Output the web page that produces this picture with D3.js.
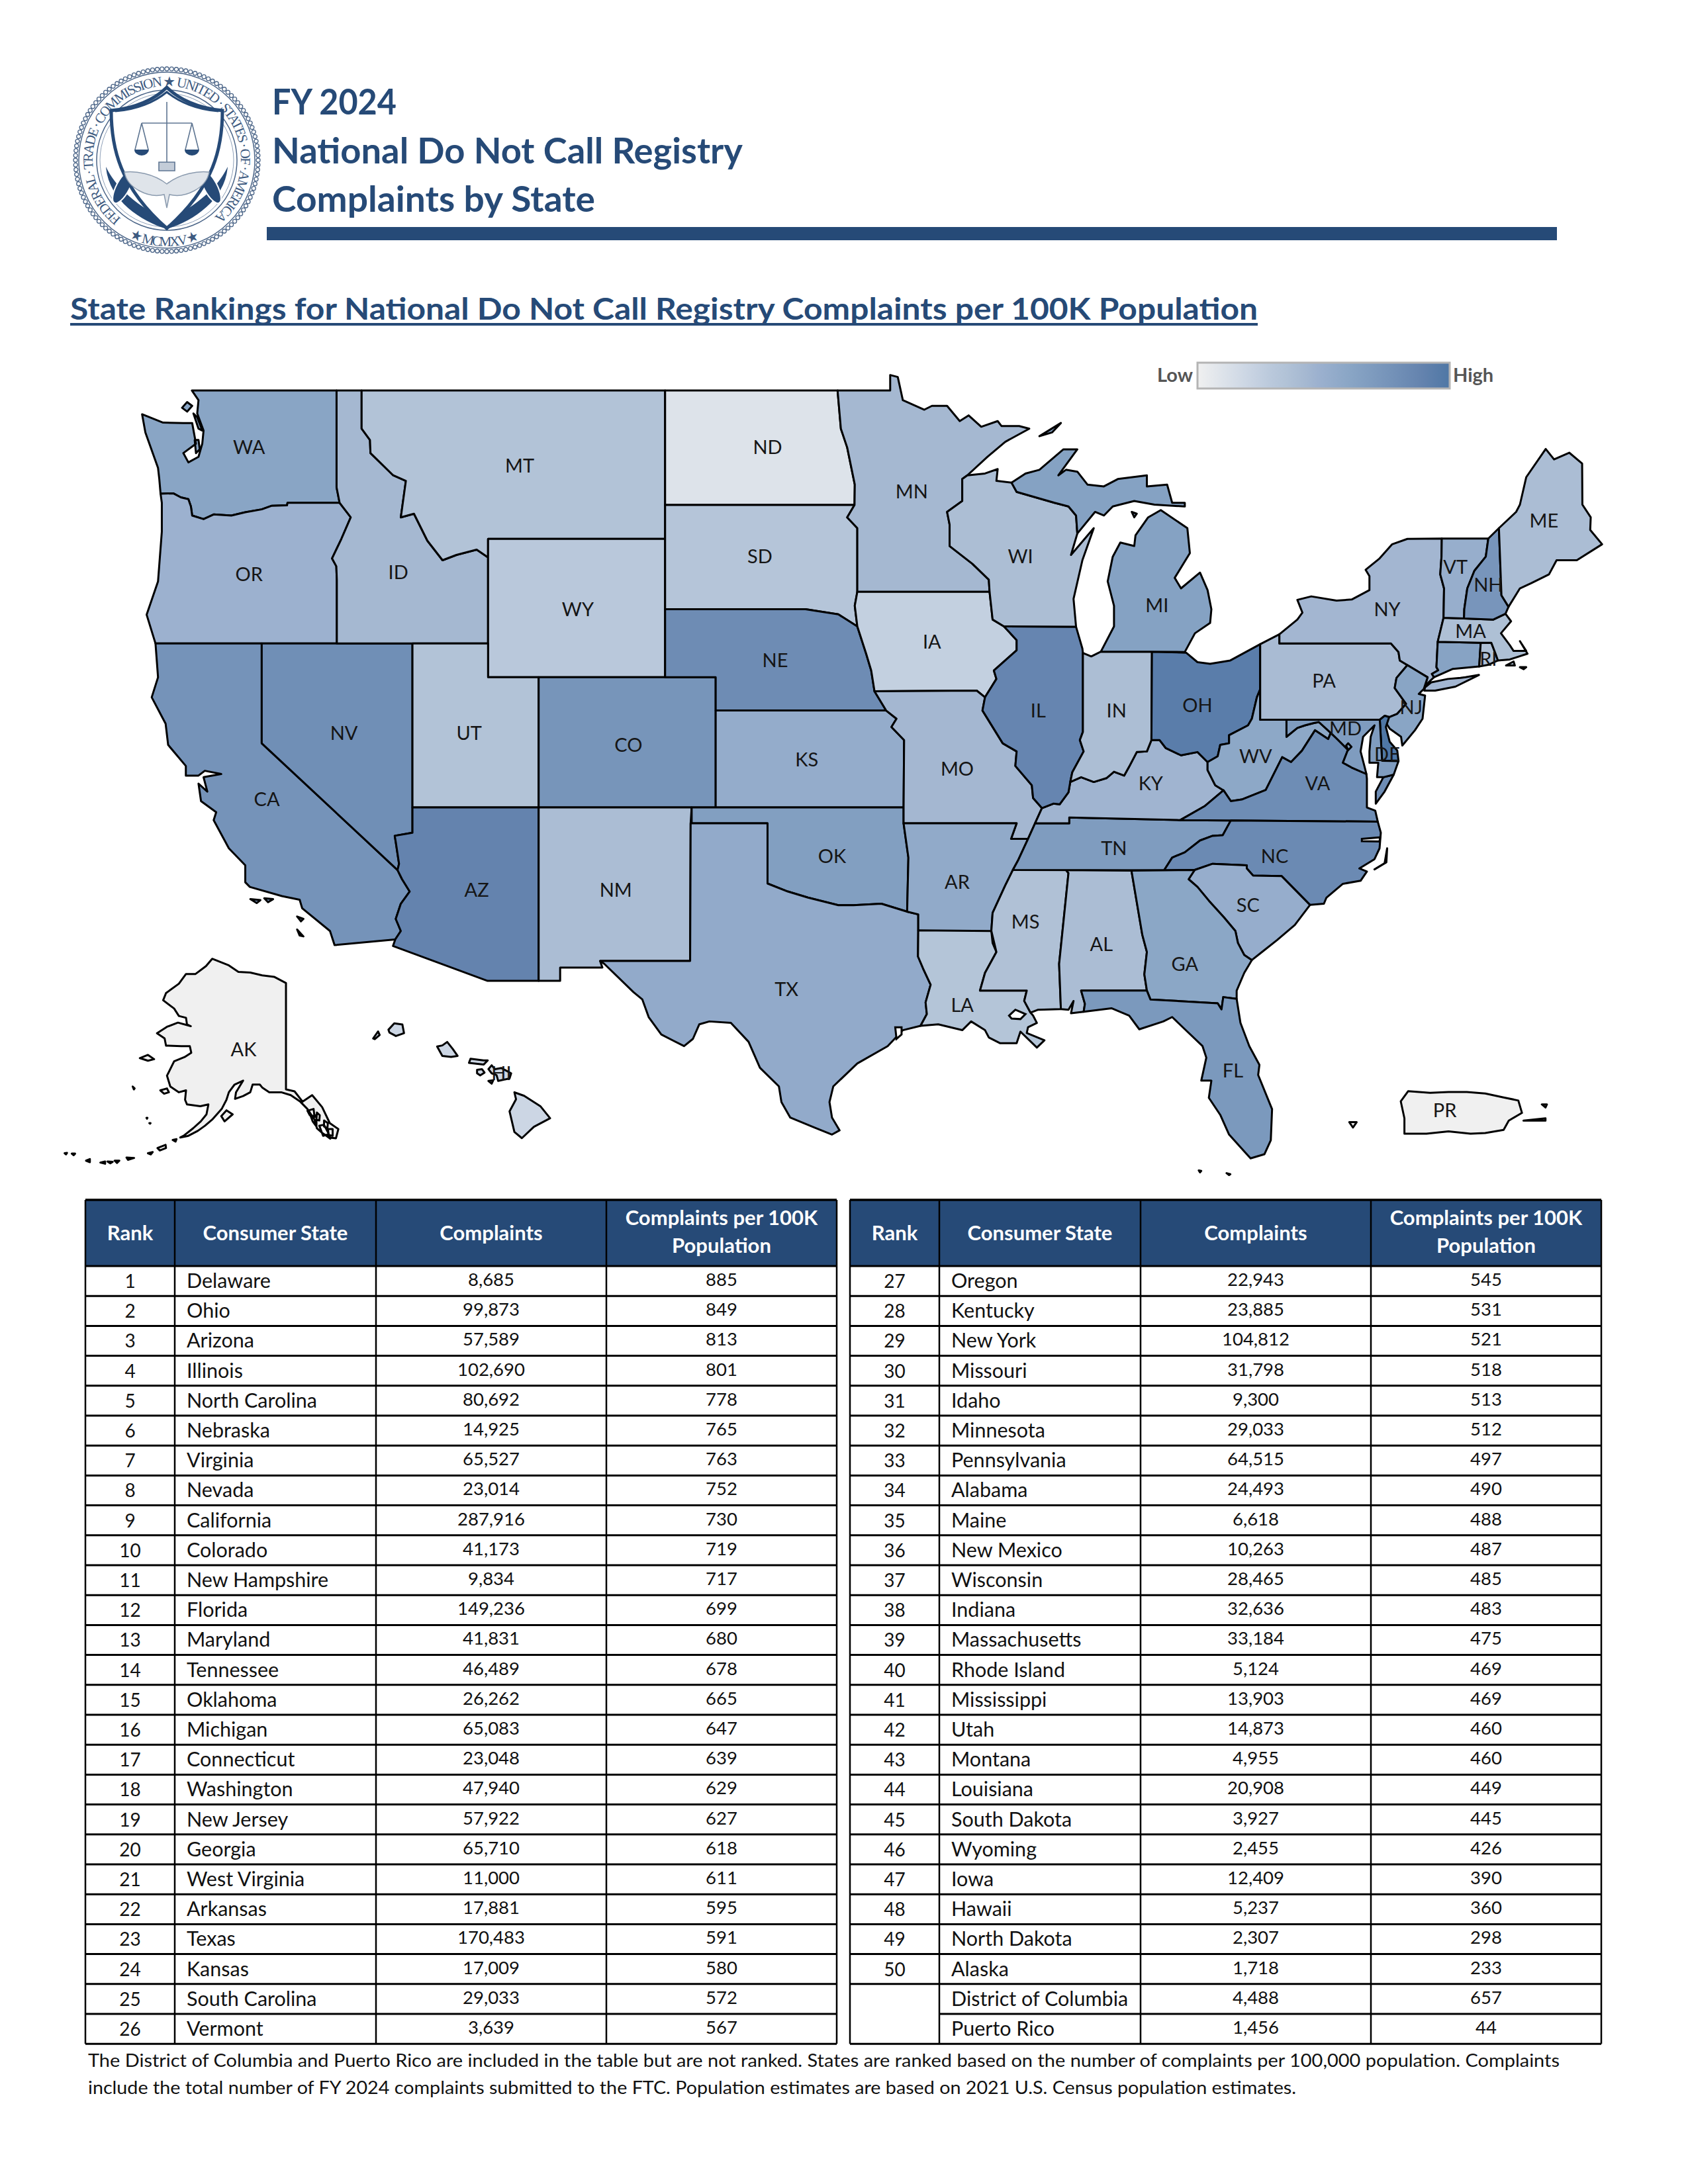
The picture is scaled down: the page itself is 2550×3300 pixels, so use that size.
<!DOCTYPE html>
<html>
<head>
<meta charset="utf-8">
<title>FY 2024 National Do Not Call Registry Complaints by State</title>
<script src="https://cdn.jsdelivr.net/npm/d3@7"></script>
<style>
body { margin: 0; background: #fff; }
text { font-family: Lato, "Open Sans", sans-serif; }
</style>
</head>
<body>
<svg id="page" width="2550" height="3300" viewBox="0 0 2550 3300"></svg>
<script>
// table values
var ranks = ["1","2","3","4","5","6","7","8","9","10","11","12","13","14","15","16","17","18","19","20","21","22","23","24","25","26",
  "27","28","29","30","31","32","33","34","35","36","37","38","39","40","41","42","43","44","45","46","47","48","49","50","",""];
var stateNames = ["Delaware","Ohio","Arizona","Illinois","North Carolina","Nebraska","Virginia","Nevada","California","Colorado","New Hampshire","Florida","Maryland","Tennessee","Oklahoma","Michigan","Connecticut","Washington","New Jersey","Georgia","West Virginia","Arkansas","Texas","Kansas","South Carolina","Vermont",
  "Oregon","Kentucky","New York","Missouri","Idaho","Minnesota","Pennsylvania","Alabama","Maine","New Mexico","Wisconsin","Indiana","Massachusetts","Rhode Island","Mississippi","Utah","Montana","Louisiana","South Dakota","Wyoming","Iowa","Hawaii","North Dakota","Alaska","District of Columbia","Puerto Rico"];
var stateCodes = ["DE","OH","AZ","IL","NC","NE","VA","NV","CA","CO","NH","FL","MD","TN","OK","MI","CT","WA","NJ","GA","WV","AR","TX","KS","SC","VT",
  "OR","KY","NY","MO","ID","MN","PA","AL","ME","NM","WI","IN","MA","RI","MS","UT","MT","LA","SD","WY","IA","HI","ND","AK","DC","PR"];
var complaints = [8685,99873,57589,102690,80692,14925,65527,23014,287916,41173,9834,149236,41831,46489,26262,65083,23048,47940,57922,65710,11000,17881,170483,17009,29033,3639,
  22943,23885,104812,31798,9300,29033,64515,24493,6618,10263,28465,32636,33184,5124,13903,14873,4955,20908,3927,2455,12409,5237,2307,1718,4488,1456];
var per100k = [885,849,813,801,778,765,763,752,730,719,717,699,680,678,665,647,639,629,627,618,611,595,591,580,572,567,
  545,531,521,518,513,512,497,490,488,487,485,483,475,469,469,460,460,449,445,426,390,360,298,233,657,44];

var colorStops = [233,298,360,426,460,513,545,629,730,813,885];
var colorRange = ["#f0f0f0","#dde3ea","#ccd6e4","#b9c8db","#b2c3d7","#a5b8d1","#9cb1cf","#89a5c5","#7593b9","#6483ae","#4f77a5"];

var headers = ["Rank","Consumer State","Complaints",["Complaints per 100K","Population"]];

// label anchors, lon / lat
var labelLonLat = {WA:[-120.5,47.5],MT:[-109.8,47],ND:[-100,47.5],MN:[-94.3,46.3],ME:[-69.3,45.5],VT:[-72.8,44.2],NH:[-71.5,43.7],WI:[-90,44.5],MI:[-84.6,43.1],NY:[-75.5,43],MA:[-72.2,42.35],RI:[-71.5,41.55],
  OR:[-120.5,44],ID:[-114.6,44.05],WY:[-107.5,43],SD:[-100.3,44.5],IA:[-93.5,42.05],NE:[-99.7,41.5],PA:[-78,40.9],NJ:[-74.55,40.1],OH:[-83,40.15],IN:[-86.2,40],IL:[-89.3,40],UT:[-111.8,39.3],CO:[-105.5,38.95],KS:[-98.45,38.5],NV:[-116.75,39.3],
  MD:[-77.15,39.45],DE:[-75.5,38.65],WV:[-80.7,38.6],VA:[-78.25,37.75],KY:[-84.85,37.75],MO:[-92.5,38.2],CA:[-119.8,37.25],OK:[-97.45,35.45],TN:[-86.3,35.7],NC:[-79.95,35.45],AR:[-92.5,34.6],AZ:[-111.5,34.35],NM:[-106,34.35],SC:[-81,33.85],
  MS:[-89.8,33.3],AL:[-86.8,32.55],GA:[-83.5,31.9],TX:[-99.25,31.05],LA:[-92.3,30.5],FL:[-81.6,28.25],AK:[-149.9,64.2],HI:[-156.3,20.8],PR:[-66.65,18.25]};

// shared borders
var columbia = [[-124,46.25],[-123.5,46.26],[-123.2,46.15],[-122.9,46.1],[-122.8,45.9],[-122.75,45.65],[-122.3,45.55],[-121.9,45.68],[-121.2,45.65],[-120.65,45.74],[-120,45.82],[-119.6,45.92],[-119,45.93],[-118.98,46],[-116.92,46]];
var snake = [[-116.92,46],[-116.48,45.6],[-116.85,45],[-117.22,44.45],[-117.05,44.23],[-117.03,43.83],[-117.03,42]];
var bitterroot = [[-116.05,49],[-116.05,48],[-115.72,47.7],[-115.7,47.35],[-114.8,46.75],[-114.3,46.6],[-114.5,45.6],[-113.98,45.7],[-113.45,44.95],[-112.85,44.4],[-112.3,44.55],[-111.5,44.7],[-111.05,44.48]];
var coloradoRiver = [[-114.63,35],[-114.45,34.7],[-114.15,34.3],[-114.5,33.9],[-114.7,33.4],[-114.5,33],[-114.72,32.72]];
var nvArizona = [[-114.04,36.2],[-114.74,36.1],[-114.7,35.9],[-114.57,35.2],[-114.63,35]];
var redRiver = [[-100,34.56],[-99.2,34.3],[-98.4,34.1],[-97.2,33.85],[-96.6,33.85],[-95.5,33.9],[-94.48,33.64]];
var lowerMiss = [[-91.6,31],[-91.4,31.6],[-90.95,32.3],[-91.15,33],[-91.1,33.6],[-90.6,34.5],[-90.3,35]];
var midMiss = [[-90.3,35],[-90.1,35.3],[-89.7,36]];
var sabine = [[-93.95,29.8],[-93.7,30.2],[-93.75,30.6],[-93.55,31.2],[-93.85,31.75],[-94.05,32.15],[-94.04,33.02]];
var redNorthMN = [[-97.23,49],[-97.1,48],[-96.85,47.5],[-96.55,46.5],[-96.56,45.94]];
var sdMN = [[-96.56,45.94],[-96.85,45.6],[-96.45,45.3],[-96.45,43.5]];
var siouxMissouri = [[-96.45,43.5],[-96.55,43.1],[-96.45,42.5]];
var iaNE = [[-96.45,42.5],[-96.1,41.7],[-95.9,41.2],[-95.77,40.58]];
var neMO = [[-95.77,40.58],[-95.31,40]];
var ksMO = [[-95.31,40],[-94.9,39.75],[-95.1,39.5],[-94.6,39.1],[-94.62,37]];
var mnWI = [[-92.1,46.75],[-92.3,46.65],[-92.3,46.05],[-92.9,45.75],[-92.8,45.4],[-92.8,44.8],[-91.9,44.3],[-91.25,43.85],[-91.22,43.5]];
var iaWI = [[-91.22,43.5],[-91.1,42.7],[-90.65,42.5]];
var iaIL = [[-90.65,42.5],[-90.15,42.1],[-90.15,41.8],[-91.05,41.2],[-90.95,40.95],[-91.4,40.4]];
var moIA = [[-91.4,40.4],[-91.73,40.6],[-95.77,40.58]];
var moIL = [[-91.4,40.4],[-91.5,40],[-90.7,39],[-90.15,38.75],[-90.2,38.3],[-89.55,37.7],[-89.5,37.3],[-89.15,36.98]];
var wabash = [[-87.53,41.72],[-87.53,39.35],[-87.65,39.1],[-87.5,38.75],[-87.95,38.1],[-88.03,37.8]];
var ohioIL = [[-89.15,36.98],[-88.7,37.12],[-88.45,37.1],[-88.1,37.48],[-88.03,37.8]];
var ohioIN = [[-88.03,37.8],[-87.6,37.95],[-87.1,37.8],[-86.6,37.92],[-86.3,38.12],[-85.9,38],[-85.7,38.28],[-85.4,38.73],[-85,38.75],[-84.82,39.1]];
var ohioOH = [[-84.82,39.1],[-84.5,39.1],[-84.25,38.85],[-83.65,38.63],[-83,38.73],[-82.6,38.42]];
var ohioWV = [[-82.6,38.42],[-82.2,38.6],[-82.1,38.95],[-81.75,39],[-81.75,39.25],[-81,39.55],[-80.85,39.75],[-80.65,40.4],[-80.52,40.64]];
var kyWV = [[-81.97,37.54],[-82.3,37.7],[-82.6,38.17],[-82.6,38.42]];
var vaKY = [[-81.97,37.54],[-82.7,37.05],[-83.68,36.6]];
var vaWV = [[-77.73,39.32],[-77.83,39.13],[-78.35,39.4],[-78.87,38.77],[-79.3,38.42],[-79.65,38.57],[-80.3,37.55],[-81.25,37.25],[-81.68,37.2],[-81.97,37.54]];
var potomac = [[-76.32,38.05],[-76.9,38.25],[-77.25,38.4],[-77.05,38.8],[-77.5,39.15],[-77.73,39.32]];
var wvMD = [[-77.73,39.32],[-78.2,39.65],[-78.4,39.62],[-78.75,39.55],[-79.05,39.47],[-79.48,39.2],[-79.48,39.72]];
var tnNC = [[-81.68,36.59],[-82,36.12],[-82.4,36.1],[-82.9,35.95],[-83.5,35.57],[-84,35.4],[-84.32,34.99]];
var ncSC = [[-83.11,35],[-82.4,35.2],[-81.05,35.15],[-81.05,35.05],[-80.8,34.82],[-79.67,34.8],[-78.55,33.86]];
var savannah = [[-80.85,32.03],[-81.15,32.2],[-81.4,32.6],[-81.5,33],[-81.95,33.45],[-82.55,34],[-83,34.45],[-83.35,34.7],[-83.11,35]];
var alGA = [[-85.61,34.98],[-85.18,32.87],[-85,32.3],[-85.1,31.55],[-85,31]];
var flGA = [[-85,31],[-84.86,30.7],[-82.2,30.57],[-82.05,30.36],[-81.98,30.78],[-81.45,30.72]];
var msAL = [[-88.2,35],[-88.1,34.9],[-88.47,31.9],[-88.4,30.37]];
var delawareRiver = [[-74.7,41.36],[-75.13,40.98],[-75.2,40.68],[-74.75,40.2],[-75.1,39.9],[-75.42,39.8]];
var nyDelaware = [[-75.35,42],[-75.05,41.75],[-75,41.5],[-74.7,41.36]];
var nhVT = [[-71.5,45.01],[-71.6,44.5],[-72.05,44.1],[-72.33,43.6],[-72.45,43],[-72.46,42.73]];
var nyVT = [[-73.34,45.01],[-73.35,44.5],[-73.4,44],[-73.25,43.6],[-73.27,42.75]];
var nhME = [[-71.08,45.3],[-70.98,43.4],[-70.7,43.07]];
var maRI = [[-71.8,42.02],[-71.38,42.02],[-71.2,41.67],[-71.12,41.5]];
var nyCT = [[-73.5,42.05],[-73.55,41.3],[-73.48,41.21],[-73.73,41.1],[-73.65,41]];

function rev(a) { return a.slice().reverse(); }
function ring() { return [].concat.apply([], arguments); }

// state outlines, each a list of rings
var outlines = {
  WA: [ring([[-124.73,48.38],[-123.9,48.16],[-123.1,48.15],[-122.75,48.15],[-122.6,47.6],[-123.1,47.35],[-122.9,47.1],[-122.5,47.25],[-122.35,47.6],[-122.3,47.95],[-122.55,48.4],[-122.5,48.75],[-122.76,49],[-117.04,49],[-117.04,46.42]],rev(columbia),[[-124.05,46.65],[-124.1,46.95],[-124.6,47.9]]),
    [[-122.75,48.6],[-122.95,48.7],[-123.15,48.55],[-122.95,48.45]],[[-122.7,48.4],[-122.55,48.3],[-122.35,47.95],[-122.5,48.0]],[[-122.65,47.7],[-122.5,47.7],[-122.45,47.45],[-122.6,47.35]]],
  OR: [ring(columbia,snake,[[-124.2,42],[-124.55,42.84],[-124.1,43.8],[-123.95,45.2],[-123.95,46]])],
  CA: [ring([[-124.2,42],[-120,42],[-120,39]],coloradoRiver,[[-117.12,32.53],[-117.3,33],[-118.4,33.75],[-118.5,34.03],[-119.2,34.15],[-120.47,34.45],[-120.65,34.6],[-120.65,35.15],[-121.3,35.7],[-121.9,36.6],[-121.8,36.85],[-122.4,37.2],[-122.5,37.75],[-122.15,37.5],[-122.3,37.95],[-121.6,38.05],[-122.25,38.15],[-122.5,38],[-123,38],[-123,38.3],[-123.7,38.95],[-123.8,39.6],[-124.35,40.4],[-124.1,41]]),
    [[-119.9,34.08],[-119.55,34.05],[-119.75,33.95]],[[-118.6,33.48],[-118.35,33.4],[-118.45,33.32]],[[-118.6,33.05],[-118.35,32.82],[-118.5,32.85]],[[-120.45,34.05],[-120.05,34.02],[-120.2,33.92]]],
  NV: [ring([[-120,42],[-114.04,42]],nvArizona,[[-120,39]])],
  ID: [ring([[-117.04,49]],bitterroot,[[-111.05,42],[-117.03,42]],rev(snake),[[-117.04,46.42]])],
  MT: [ring(bitterroot,[[-111.05,45],[-104.05,45],[-104.05,49]])],
  WY: [[[-111.05,45],[-104.05,45],[-104.05,41],[-111.05,41]]],
  UT: [[[-114.04,42],[-111.05,42],[-111.05,41],[-109.05,41],[-109.05,37],[-114.04,37]]],
  CO: [[[-109.05,41],[-102.05,41],[-102.05,37],[-109.05,37]]],
  AZ: [ring([[-114.04,37],[-109.05,37],[-109.05,31.33],[-111.07,31.33],[-114.81,32.5]],rev(coloradoRiver),rev(nvArizona))],
  NM: [[[-109.05,37],[-103,37],[-103.04,36.5],[-103.06,32],[-106.62,32],[-106.53,31.78],[-108.2,31.78],[-108.2,31.33],[-109.05,31.33]]],
  ND: [ring([[-104.05,49]],redNorthMN,[[-104.05,45.94]])],
  SD: [ring([[-104.05,45.94]],sdMN,siouxMissouri,[[-97.2,42.85],[-98.5,43],[-104.05,43]])],
  NE: [ring([[-104.05,43],[-98.5,43],[-97.2,42.85]],iaNE,neMO,[[-102.05,40],[-102.05,41],[-104.05,41]])],
  KS: [ring([[-102.05,40]],ksMO,[[-102.05,37]])],
  OK: [ring([[-103,37],[-94.62,37],[-94.62,36.5],[-94.43,35.4]],rev(redRiver),[[-100,36.5],[-103,36.5]])],
  TX: [ring([[-103.04,36.5],[-100,36.5]],redRiver,[[-94.04,33.55]],rev(sabine),[[-94.65,29.65],[-95.25,29.1],[-96.45,28.5],[-97.4,27.7],[-97.55,27.15],[-97.45,26.6],[-97.15,26.15],[-97.45,26],[-98.15,26.25],[-99.1,26.6],[-99.45,27.15],[-99.55,27.7],[-100.3,28.35],[-100.75,29.25],[-101.45,29.9],[-102.3,29.95],[-102.7,29.85],[-102.95,29.35],[-103.3,29.1],[-104.2,29.5],[-104.7,30.1],[-104.95,30.7],[-105.3,30.95],[-106.45,31.9],[-106.62,32],[-103.06,32]])],
  MN: [ring(redNorthMN,sdMN.slice(1),[[-91.22,43.5]],rev(mnWI),[[-91.3,47.25],[-90.6,47.65],[-89.65,48],[-90.05,48.07],[-90.75,48.07],[-90.9,48.2],[-91.55,48.05],[-92.05,48.35],[-92.4,48.2],[-92.9,48.6],[-93.5,48.6],[-93.8,48.5],[-94.65,48.75],[-94.85,49.35],[-95.15,49.4],[-95.15,49]])],
  IA: [ring([[-96.45,43.5],[-91.22,43.5]],iaWI.slice(1),iaIL.slice(1),moIA.slice(1),rev(iaNE).slice(1),rev(siouxMissouri).slice(1))],
  MO: [ring(rev(moIA),moIL.slice(1),[[-89.42,36.5],[-89.7,36],[-90.37,36],[-90.15,36.5],[-94.62,36.5]],rev(ksMO),rev(neMO).slice(1))],
  AR: [ring([[-94.62,36.5],[-90.15,36.5],[-90.37,36]],rev(midMiss),rev(lowerMiss).slice(1),[[-94.04,33.02],[-94.04,33.55],[-94.48,33.64],[-94.43,35.4]])],
  LA: [ring([[-94.04,33.02],[-91.15,33],[-91.1,32.6],[-90.95,32.3],[-91.4,31.6],[-91.6,31],[-89.75,31],[-89.85,30.65],[-89.6,30.25],[-89.5,30.15],[-89.35,29.9],[-89.7,29.75],[-89.75,29.55],[-89.05,29.3],[-89.35,29.05],[-90,29.6],[-90.15,29.2],[-90.8,29.2],[-91.25,29.4],[-91.4,29.65],[-91.95,29.95],[-92.3,29.65],[-93.25,29.85]],sabine)],
  MS: [ring([[-90.3,35],[-88.2,35]],msAL.slice(1),[[-89.3,30.35],[-89.6,30.25],[-89.85,30.65],[-89.75,31],[-91.6,31]],lowerMiss.slice(1,-1))],
  AL: [ring([[-88.2,35]],alGA,[[-87.6,31],[-87.45,30.55],[-87.5,30.28],[-88,30.23],[-87.9,30.65],[-88.1,30.35],[-88.4,30.37]],rev(msAL).slice(1))],
  TN: [ring(tnNC,[[-90.3,35]],midMiss.slice(1),[[-89.42,36.5],[-88.07,36.5],[-88.07,36.68],[-83.68,36.6]])],
  KY: [ring([[-89.42,36.5],[-89.15,36.98]],ohioIL.slice(1),ohioIN.slice(1),ohioOH.slice(1),rev(kyWV).slice(1),vaKY.slice(1),[[-88.07,36.68],[-88.07,36.5]])],
  IL: [ring([[-90.65,42.5],[-87.8,42.49],[-87.55,41.85]],wabash,rev(ohioIL).slice(1),rev(moIL).slice(1),rev(iaIL).slice(1))],
  WI: [ring([[-92.1,46.75],[-91.4,46.8],[-90.9,46.92],[-90.95,46.6],[-90.35,46.55],[-90.15,46.3],[-88.65,46],[-88.1,45.9],[-87.8,45.65],[-87.75,45.15],[-88,44.55],[-87.1,45.3],[-87.55,44.4],[-87.9,43.3],[-87.8,42.49]],rev(iaWI),rev(mnWI).slice(1))],
  IN: [ring(wabash,ohioIN.slice(1),[[-84.8,41.76],[-86.82,41.76],[-87.2,41.62]])],
  OH: [ring([[-84.8,41.76],[-83.45,41.73],[-83,41.45],[-82.5,41.4],[-81.7,41.5],[-80.52,41.98]],rev(ohioWV),rev(ohioOH).slice(1))],
  MI: [[[-86.82,41.76],[-84.8,41.76],[-83.5,41.75],[-83.1,42.3],[-82.5,42.6],[-82.45,43],[-82.6,43.55],[-82.9,44.05],[-83.65,43.6],[-83.9,43.9],[-83.3,44.6],[-83.4,45.3],[-84.45,45.8],[-84.95,45.6],[-85.45,45.1],[-85.5,44.8],[-86.05,44.9],[-86.35,44.5],[-86.55,43.8],[-86.3,43.1],[-86.3,42.5]],
    [[-90.35,46.55],[-89.8,46.8],[-89.25,46.9],[-88.3,47.45],[-87.75,47.45],[-88.5,46.75],[-88.2,46.9],[-87.75,46.85],[-87.35,46.5],[-86.7,46.45],[-86.15,46.65],[-85,46.75],[-85,46.45],[-84.2,46.5],[-84,46],[-83.5,46],[-83.5,45.9],[-84.7,45.95],[-85.5,46.05],[-86.35,45.9],[-86.7,45.65],[-87.05,45.75],[-87.75,45.15],[-87.8,45.65],[-88.1,45.9],[-88.65,46],[-90.15,46.3]],
    [[-85.6,45.75],[-85.5,45.6],[-85.4,45.7]],[[-89.25,47.8],[-88.4,48.15],[-88.75,47.9]]],
  WV: [ring(ohioWV,[[-80.52,39.72],[-79.48,39.72]],rev(wvMD).slice(1),vaWV.slice(1),kyWV.slice(1))],
  VA: [ring([[-83.68,36.6],[-81.68,36.59],[-75.87,36.55],[-75.97,36.9],[-76.3,37],[-76.3,37.55],[-76.3,37.9]],potomac,vaWV.slice(1),vaKY.slice(1)),
    [[-75.65,37.95],[-75.24,38.03],[-75.6,37.5],[-75.95,37.12],[-75.95,37.5]]],
  NC: [ring([[-75.87,36.55],[-81.68,36.59]],tnNC.slice(1),ncSC,[[-78,33.9],[-77.9,34.1],[-77.25,34.55],[-76.55,34.65],[-76.3,34.95],[-76.6,35.05],[-76,35.35],[-75.8,35.7],[-75.75,36.2]]),
    [[-75.5,35.7],[-75.53,35.25],[-76,35.02],[-75.6,35.22]]],
  SC: [ring(ncSC,[[-79.15,33.2],[-79.85,32.7],[-80.45,32.3]],savannah.slice(0,-1))],
  GA: [ring(alGA,flGA.slice(1),[[-81.45,31],[-81.15,31.6]],savannah,[[-84.32,34.99]])],
  FL: [ring([[-87.6,31]],flGA,[[-81.3,29.9],[-80.95,29.1],[-80.55,28.45],[-80.6,28.1],[-80.05,26.9],[-80.1,25.8],[-80.35,25.3],[-80.9,25.15],[-81.15,25.4],[-81.75,26],[-82.1,26.7],[-82.55,27.3],[-82.45,27.9],[-82.85,27.9],[-82.65,28.7],[-82.8,29.1],[-83.4,29.6],[-84,30.1],[-84.35,29.95],[-85.3,29.68],[-85.7,30.15],[-86.4,30.4],[-87.5,30.28],[-87.45,30.55]]),
    [[-81.85,24.62],[-81.7,24.58],[-81.75,24.55]],[[-82.95,24.72],[-82.85,24.7],[-82.9,24.65]]],
  PA: [ring([[-80.52,41.98],[-79.76,42.27],[-79.76,42]],nyDelaware,delawareRiver.slice(1),[[-75.6,39.84],[-75.79,39.72],[-80.52,39.72]])],
  NY: [ring([[-79.76,42.27],[-79.05,42.7],[-78.85,42.9],[-79.05,43.27],[-78.5,43.37],[-77.5,43.25],[-76.9,43.28],[-76.2,43.55],[-76.2,43.95],[-76.35,44.13],[-75.8,44.45],[-75.3,44.85],[-74.7,45]],nyVT,nyCT,[[-74,40.75],[-73.9,41]],rev(nyDelaware).slice(1),[[-79.76,42]]),
    [[-74.03,40.6],[-73.6,40.6],[-72.8,40.72],[-71.87,41.07],[-72.4,41],[-72.6,40.98],[-73.1,40.95],[-73.75,40.85],[-74,40.7]]],
  NJ: [ring(delawareRiver,[[-75.55,39.63],[-75.4,39.45],[-74.95,39.2],[-74.9,38.93],[-74.4,39.4],[-74.1,39.75],[-74,40.45],[-74.25,40.5],[-74.05,40.65],[-73.9,41]])],
  DE: [[[-75.79,39.72],[-75.6,39.84],[-75.42,39.8],[-75.55,39.5],[-75.4,39.05],[-75.1,38.78],[-75.05,38.45],[-75.7,38.46]]],
  MD: [ring([[-79.48,39.72],[-75.79,39.72],[-75.7,38.46],[-75.05,38.45],[-75.24,38.03],[-75.65,37.95],[-75.9,37.95],[-75.85,38.4],[-76.2,38.4],[-76.2,38.75],[-76.15,39.2],[-76,39.55],[-76.45,39.2],[-76.55,38.75],[-76.4,38.3]],potomac,wvMD.slice(1))],
  DC: [[[-77.12,38.93],[-77.04,39],[-76.91,38.89],[-77.04,38.79]]],
  CT: [ring(rev(nyCT),[[-71.8,42.02],[-71.86,41.32],[-72.9,41.25]])],
  RI: [ring(maRI,[[-71.5,41.37],[-71.86,41.32]])],
  MA: [ring([[-73.5,42.05],[-73.27,42.75],[-72.46,42.73],[-71.3,42.7],[-70.82,42.87],[-70.6,42.65],[-71,42.3],[-70.65,41.95],[-70.5,41.78],[-70,41.78],[-70.25,42.07],[-69.95,41.7],[-70.65,41.53]],rev(maRI)),
    [[-70.8,41.35],[-70.5,41.47],[-70.45,41.35]],[[-70.25,41.3],[-70,41.3],[-70.1,41.24]]],
  VT: [ring([[-73.34,45.01]],nhVT,rev(nyVT).slice(0,-1))],
  NH: [ring(nhVT,[[-71.3,42.7],[-70.82,42.87]],rev(nhME))],
  ME: [ring(nhME,[[-70.25,43.6],[-69.8,43.75],[-69.1,44],[-68.8,44.4],[-68,44.4],[-67,44.85],[-67.47,45.25],[-67.45,45.6],[-67.78,45.95],[-67.79,47.07],[-68.3,47.36],[-68.9,47.18],[-69.23,47.46],[-70,46.7],[-70.25,45.95],[-70.4,45.75]])],
  AK: [[[-141,69.65],[-143.5,70.1],[-146,70.2],[-148.5,70.4],[-151,70.45],[-153,70.9],[-156.5,71.35],[-157.8,70.85],[-160,70.3],[-162,70.3],[-163.5,69.6],[-166.2,68.9],[-166.8,68.35],[-164.5,67.7],[-163.5,67.1],[-162,66.95],[-161.8,66.4],[-161,66.25],[-163.7,66.55],[-166,66.2],[-168.1,65.65],[-166.5,65.2],[-166.2,64.55],[-163,64.5],[-161.2,64.5],[-160.9,63.9],[-162.3,63.5],[-164.5,63.1],[-166,61.7],[-165.3,60.6],[-163.5,60],[-162,60.2],[-162.2,59.2],[-161.8,58.7],[-159,58.5],[-157.3,58.7],[-157.7,57.6],[-158.9,56.8],[-160.5,56],[-162.5,55.1],[-163.2,54.9],[-161.5,55.1],[-159.5,55.7],[-158,56.3],[-156.5,57],[-154.5,58.2],[-153.5,59.2],[-153,60],[-151.8,60.8],[-150,61.2],[-151.5,60],[-151.7,59.3],[-150,59.6],[-148.5,60],[-148,60.8],[-146.5,60.8],[-146,60.5],[-144.5,60],[-142,60],[-140,59.7],[-138,59],[-136.5,58.2],[-135,57],[-134.5,56],[-133.5,55.5],[-132,54.9],[-130.5,54.8],[-130,55.9],[-131.8,56.6],[-133.4,58.4],[-135.5,59.7],[-137.5,59],[-139.2,60.1],[-141,60.3]],
    [[-171.7,63.4],[-170,63.7],[-168.7,63.3],[-170,63.15]],[[-167.4,60.2],[-166,60.4],[-165.6,60],[-166.6,59.85]],[[-154.6,57.4],[-153.5,58.05],[-152.2,57.6],[-153.9,56.8]],
    [[-173.2,60.6],[-172.8,60.4],[-172.95,60.3]],[[-170.3,57.2],[-170.1,57.2],[-170.2,57.1]],[[-169.7,56.6],[-169.45,56.6],[-169.55,56.53]],
    [[-168,53.6],[-166.3,54],[-166.2,53.6],[-167.5,53.3]],[[-170,52.95],[-169,53.1],[-169.4,52.8]],[[-174.5,52.4],[-172.9,52.35],[-174.2,52.1]],[[-177,52],[-176,52],[-176.5,51.7]],[[-178.5,51.9],[-177.4,51.85],[-177.9,51.65]],[[-180,51.75],[-179,51.9],[-179,51.6]],[[-183,52],[-182.2,52.2],[-182.2,51.8]],[[-186,52.9],[-185.3,52.9],[-185.6,52.7]],[[-187.5,52.95],[-187,53],[-187.2,52.8]],[[-164.8,54.6],[-164,54.7],[-164.2,54.4]],
    [[-136.5,58],[-135.2,58.2],[-135,57.3],[-136,57.5]],[[-135.8,57.4],[-134.6,57.5],[-134.6,56.2],[-135.4,56.8]],[[-134.5,57.8],[-133.9,57.5],[-134,56.9],[-134.6,57]],[[-134,56.3],[-133,56.4],[-132,55.3],[-133.2,55.1]],[[-133,56.9],[-132.2,56.6],[-132.3,56],[-133,56.2]],[[-132.2,55.9],[-131.2,55.9],[-131.2,55.1],[-132,55.2]],[[-132.5,55.1],[-131.8,55],[-131.7,54.75]]],
  HI: [[[-159.78,22.05],[-159.6,22.23],[-159.35,22.2],[-159.3,21.95],[-159.55,21.87],[-159.75,21.97]],
    [[-160.25,21.8],[-160.1,22],[-160.05,21.9],[-160.2,21.78]],
    [[-158.28,21.57],[-158.12,21.3],[-157.85,21.27],[-157.65,21.3],[-157.8,21.5],[-157.97,21.7],[-158.12,21.6]],
    [[-157.3,21.1],[-157.25,21.22],[-156.85,21.17],[-156.72,21.17],[-156.85,21.05]],
    [[-157.05,20.9],[-156.9,20.92],[-156.82,20.82],[-156.95,20.74],[-157.05,20.8]],
    [[-156.7,20.92],[-156.6,21.03],[-156.5,20.92],[-156.3,20.95],[-156,20.8],[-156.05,20.65],[-156.4,20.58],[-156.45,20.75],[-156.6,20.8]],
    [[-156.7,20.58],[-156.55,20.6],[-156.6,20.5]],
    [[-155.9,20.25],[-155.6,20.15],[-155.1,19.85],[-154.8,19.5],[-155.3,19.25],[-155.67,18.92],[-155.9,19.1],[-156.05,19.7],[-155.85,20.05]]],
  PR: [[[-67.25,18.37],[-67.15,18.5],[-66.85,18.48],[-66.6,18.49],[-66.35,18.49],[-66.1,18.47],[-65.85,18.42],[-65.65,18.38],[-65.6,18.22],[-65.78,18.12],[-65.85,18],[-66.1,17.96],[-66.3,17.95],[-66.6,17.98],[-66.9,17.95],[-67.2,17.95],[-67.2,18.15]],
    [[-65.58,18.12],[-65.28,18.15],[-65.28,18.12]],[[-67.95,18.1],[-67.85,18.1],[-67.9,18.03]],[[-65.33,18.33],[-65.26,18.33],[-65.28,18.29]]]
};

// water cut out of the land: Pontchartrain, Galveston Bay, Albemarle Sound
var lakes = [
  [[-90.45,30.15],[-90.2,30.35],[-89.8,30.2],[-90,30.03],[-90.35,30.05]],
  [[-94.95,29.75],[-94.7,29.75],[-94.7,29.5],[-94.9,29.35]],
  [[-76.5,36],[-75.78,36.05],[-75.8,35.92],[-76.5,35.93]]
];

var svg = d3.select("#page");
var navy = "#264a77";

// one Mercator projection per map panel, as in the original
var lower48 = d3.geoMercator().scale(2189).translate([4980, 2743.6]);
var alaska = d3.geoMercator().rotate([150, 0]).scale(412).translate([367.3, 2193]);
var hawaii = d3.geoMercator().scale(2810).translate([8423, 2665]);
var puertoRico = d3.geoMercator().scale(6360).translate([9581, 3739]);

function projectionFor(code) {
  if (code == "AK") return alaska;
  if (code == "HI") return hawaii;
  if (code == "PR") return puertoRico;
  return lower48;
}

function pathFor(code) {
  var proj = projectionFor(code);
  // planar stream, so ring winding does not matter
  return d3.geoPath(d3.geoTransform({
    point: function(x, y) {
      var p = proj([x, y]);
      this.stream.point(p[0], p[1]);
    }
  }));
}

// geoPath drops the last vertex of a ring, so repeat the first one
function closed(r) { return r.concat([r[0]]); }

var rateByCode = {};
stateCodes.forEach(function(c, i) { rateByCode[c] = per100k[i]; });

var color = d3.scaleLinear().domain(colorStops).range(colorRange).clamp(true);

drawSeal(svg.append("g").attr("transform", "translate(252,242)"));

// heading
var titleLines = [
  {t: "FY 2024", y: 173, len: 188},
  {t: "National Do Not Call Registry", y: 247, len: 711},
  {t: "Complaints by State", y: 320, len: 488}
];
svg.selectAll("text.title").data(titleLines).join("text")
  .attr("class", "title").attr("x", 411).attr("y", function(d) { return d.y; })
  .attr("textLength", function(d) { return d.len; }).attr("lengthAdjust", "spacingAndGlyphs")
  .attr("font-size", 53).attr("font-weight", 700).attr("fill", navy)
  .text(function(d) { return d.t; });
svg.append("rect").attr("x", 403).attr("y", 343).attr("width", 1949).attr("height", 20).attr("fill", navy);

svg.append("text").attr("x", 106).attr("y", 483).attr("textLength", 1794).attr("lengthAdjust", "spacingAndGlyphs")
  .attr("font-size", 46).attr("font-weight", 700).attr("fill", navy)
  .text("State Rankings for National Do Not Call Registry Complaints per 100K Population");
svg.append("rect").attr("x", 106).attr("y", 488).attr("width", 1794).attr("height", 4).attr("fill", navy);

// legend
var grad = svg.append("defs").append("linearGradient").attr("id", "legendRamp");
var legendSpan = d3.scaleLinear().domain([colorStops[0], colorStops[colorStops.length - 1]]).range([0, 100]);
grad.selectAll("stop").data(colorStops).join("stop")
  .attr("offset", function(d) { return legendSpan(d) + "%"; })
  .attr("stop-color", function(d) { return color(d); });
svg.append("rect").attr("x", 1809).attr("y", 548).attr("width", 381).attr("height", 39)
  .attr("fill", "url(#legendRamp)").attr("stroke", "#b4b4b4").attr("stroke-width", 3);
svg.append("text").attr("x", 1802).attr("y", 577).attr("text-anchor", "end").attr("font-size", 29).attr("font-weight", 700).attr("fill", "#555").text("Low");
svg.append("text").attr("x", 2195).attr("y", 577).attr("font-size", 29).attr("font-weight", 700).attr("fill", "#555").text("High");

// map
var mapCodes = Object.keys(outlines);
svg.append("g").selectAll("path").data(mapCodes).join("path")
  .attr("d", function(c) {
    return pathFor(c)({
      type: "MultiPolygon",
      coordinates: outlines[c].map(function(r) { return [closed(r)]; })
    });
  })
  .attr("fill", function(c) { return color(rateByCode[c]); })
  .attr("stroke", "#000").attr("stroke-width", 3).attr("stroke-linejoin", "round");

svg.append("g").selectAll("path").data(lakes).join("path")
  .attr("d", function(r) { return pathFor("LA")({type: "Polygon", coordinates: [closed(r)]}); })
  .attr("fill", "#fff").attr("stroke", "#000").attr("stroke-width", 3);

var labelCodes = Object.keys(labelLonLat);
svg.append("g").selectAll("text").data(labelCodes).join("text")
  .attr("transform", function(c) { return "translate(" + projectionFor(c)(labelLonLat[c]) + ")"; })
  .attr("text-anchor", "middle").attr("dy", "0.35em")
  .attr("font-size", 29).attr("fill", "#151515")
  .text(function(c) { return c; });

// tables
var colOffsets = [0, 135, 439, 787, 1135];
var headerTop = 1813, headerBottom = 1913, rowH = 45.2;
var blocks = [
  {x: 129, rows: d3.range(0, 26)},
  {x: 1284, rows: d3.range(26, 52)}
];
var fmt = d3.format(",");

blocks.forEach(function(b) {
  var g = svg.append("g");
  var bottom = headerBottom + rowH * b.rows.length;
  g.append("rect").attr("x", b.x).attr("y", headerTop).attr("width", colOffsets[4]).attr("height", headerBottom - headerTop).attr("fill", navy);

  // header text
  headers.forEach(function(h, i) {
    var cx = b.x + (colOffsets[i] + colOffsets[i + 1]) / 2;
    var lines = Array.isArray(h) ? h : [h];
    lines.forEach(function(line, j) {
      g.append("text").attr("x", cx).attr("y", lines.length == 1 ? 1874 : 1851 + j * 42)
        .attr("text-anchor", "middle").attr("font-size", 31).attr("font-weight", 700).attr("fill", "#fff").text(line);
    });
  });

  // body text
  var row = g.selectAll("g.row").data(b.rows).join("g").attr("class", "row")
    .attr("transform", function(d, i) { return "translate(" + b.x + "," + (headerBottom + i * rowH) + ")"; });
  row.append("text").attr("x", (colOffsets[0] + colOffsets[1]) / 2).attr("y", 33).attr("text-anchor", "middle")
    .attr("font-size", 28).attr("fill", "#111").text(function(d) { return ranks[d]; });
  row.append("text").attr("x", 153).attr("y", 33)
    .attr("font-size", 30.5).attr("fill", "#111").text(function(d) { return stateNames[d]; });
  row.append("text").attr("x", (colOffsets[2] + colOffsets[3]) / 2).attr("y", 30).attr("text-anchor", "middle")
    .attr("font-size", 27.5).attr("fill", "#111").text(function(d) { return fmt(complaints[d]); });
  row.append("text").attr("x", (colOffsets[3] + colOffsets[4]) / 2).attr("y", 30).attr("text-anchor", "middle")
    .attr("font-size", 27.5).attr("fill", "#111").text(function(d) { return per100k[d]; });

  // grid
  var rowLines = d3.range(0, b.rows.length + 1);
  g.selectAll("line.h").data(rowLines).join("line").attr("class", "h")
    .attr("x1", function(i) { return i == 25 && b.x > 1000 ? b.x + colOffsets[1] : b.x; })
    .attr("x2", b.x + colOffsets[4])
    .attr("y1", function(i) { return headerBottom + i * rowH; })
    .attr("y2", function(i) { return headerBottom + i * rowH; })
    .attr("stroke", "#000").attr("stroke-width", 3);
  g.selectAll("line.v").data(colOffsets).join("line").attr("class", "v")
    .attr("x1", function(d) { return b.x + d; }).attr("x2", function(d) { return b.x + d; })
    .attr("y1", headerTop).attr("y2", bottom)
    .attr("stroke", "#000").attr("stroke-width", 2.5);
  g.append("line").attr("x1", b.x).attr("x2", b.x + colOffsets[4]).attr("y1", headerTop).attr("y2", headerTop)
    .attr("stroke", "#000").attr("stroke-width", 3.5);
});

// footnote
var footnote = [
  {t: "The District of Columbia and Puerto Rico are included in the table but are not ranked. States are ranked based on the number of complaints per 100,000 population. Complaints", y: 3123, len: 2223},
  {t: "include the total number of FY 2024 complaints submitted to the FTC. Population estimates are based on 2021 U.S. Census population estimates.", y: 3164, len: 1825}
];
svg.selectAll("text.foot").data(footnote).join("text").attr("class", "foot")
  .attr("x", 133).attr("y", function(d) { return d.y; })
  .attr("textLength", function(d) { return d.len; }).attr("lengthAdjust", "spacingAndGlyphs")
  .attr("font-size", 26).attr("fill", "#111").text(function(d) { return d.t; });

function drawSeal(g) {
  var beads = d3.range(0, 120).map(function(i) { return i / 120 * 2 * Math.PI; });
  g.selectAll("circle.bead").data(beads).join("circle").attr("class", "bead")
    .attr("cx", function(a) { return 138 * Math.cos(a); }).attr("cy", function(a) { return 138 * Math.sin(a); })
    .attr("r", 3).attr("fill", "#fff").attr("stroke", "#4a6487").attr("stroke-width", 1.3);
  g.append("circle").attr("r", 133).attr("fill", "none").attr("stroke", "#4a6487").attr("stroke-width", 1.5);
  g.append("circle").attr("r", 106).attr("fill", "none").attr("stroke", "#4a6487").attr("stroke-width", 1.5);
  g.append("circle").attr("r", 101).attr("fill", "#fff").attr("stroke", "#8ea0b8").attr("stroke-width", 1);

  // lettering on the ring
  var a0 = -142 * Math.PI / 180, a1 = 142 * Math.PI / 180, R = 112;
  var arc = d3.path();
  arc.arc(0, 0, R, a0 - Math.PI / 2, a1 - Math.PI / 2);
  var defs = g.append("defs");
  defs.append("path").attr("id", "sealTop").attr("d", arc.toString());
  var bot = d3.path();
  bot.arc(0, 0, 130, Math.PI / 2 + 0.45, Math.PI / 2 - 0.45, true);
  defs.append("path").attr("id", "sealBottom").attr("d", bot.toString());
  g.append("text").attr("font-size", 21).attr("fill", "#3d5a80").style("font-family", "'Liberation Serif', serif")
    .append("textPath").attr("href", "#sealTop").attr("textLength", R * (a1 - a0) - 4)
    .text("FEDERAL \u00b7 TRADE \u00b7 COMMISSION \u2605 UNITED \u00b7 STATES \u00b7 OF \u00b7 AMERICA");
  g.append("text").attr("font-size", 21).attr("fill", "#3d5a80").style("font-family", "'Liberation Serif', serif")
    .append("textPath").attr("href", "#sealBottom").attr("textLength", 110)
    .text("\u2605 MCMXV \u2605");

  // wreath behind the shield
  g.append("path").attr("d", "M-92,10 C-88,60 -40,92 0,104 C40,92 88,60 92,10 C80,34 60,60 0,92 C-60,60 -80,34 -92,10 Z").attr("fill", navy);
  g.selectAll("ellipse.leaf").data([-1, 1]).join("ellipse").attr("class", "leaf")
    .attr("cx", function(s) { return s * 66; }).attr("cy", 40).attr("rx", 10).attr("ry", 28)
    .attr("transform", function(s) { return "rotate(" + (-s * 28) + " " + (s * 66) + " 40)"; })
    .attr("fill", navy).attr("stroke", "#fff").attr("stroke-width", 2);

  // shield
  g.append("path").attr("d", "M0,-110 C-18,-92 -48,-78 -84,-75 C-84,-20 -72,40 0,103 C72,40 84,-20 84,-75 C48,-78 18,-92 0,-110 Z")
    .attr("fill", "#fff").attr("stroke", navy).attr("stroke-width", 5);
  g.append("path").attr("d", "M-78,-74 C-46,-76 -18,-88 0,-103 C18,-88 46,-76 78,-74").attr("fill", "none").attr("stroke", navy).attr("stroke-width", 3);

  // balance
  var bal = g.append("g").attr("stroke", "#5f7692").attr("stroke-width", 1.6).attr("fill", "none");
  bal.append("path").attr("d", "M0,-88 L0,5 M-38,-56 L38,-56 M-38,-56 L-48,-16 M-38,-56 L-28,-16 M38,-56 L48,-16 M38,-56 L28,-16");
  bal.append("path").attr("d", "M-12,3 H12 V16 H-12 Z").attr("fill", "#c3ccd8");
  g.selectAll("path.pan").data([-38, 38]).join("path").attr("class", "pan")
    .attr("d", function(x) { return "M" + (x - 11) + ",-16 H" + (x + 11) + " A11,9 0 0 1 " + (x - 11) + ",-16 Z"; })
    .attr("fill", navy);

  // wings
  g.append("path").attr("d", "M0,36 C-20,20 -48,16 -64,18 C-60,42 -28,58 -4,52 L0,72 L4,52 C28,58 60,42 64,18 C48,16 20,20 0,36 Z")
    .attr("fill", "#dfe4ea").attr("stroke", "#8a9aae").attr("stroke-width", 1.5);
}
</script>
</body>
</html>
